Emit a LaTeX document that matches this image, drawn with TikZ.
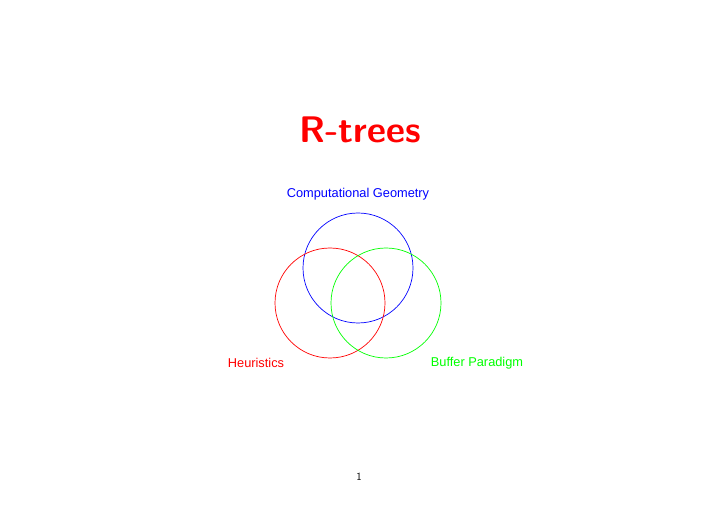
\documentclass[tikz,border=0pt]{standalone}
\usepackage{fontspec}
\usepackage{xcolor}
\usepackage{tikz}
\usetikzlibrary{positioning}
\newfontfamily\labelfont{Liberation Sans}

\begin{document}
\begin{tikzpicture}[x=1pt, y=1pt,
    ring/.style={circle, draw, minimum size=110pt, inner sep=0pt, line width=0.7pt},
    lbl/.style={font=\labelfont\fontsize{12.8}{14}\selectfont, inner sep=0pt}]
    \useasboundingbox (0,0) rectangle (720,509);

    % Title
    \node[text=red, font=\sffamily\bfseries\fontsize{37}{42}\selectfont] (title) at (360,379) {R-trees};

    % Circles
    \node[ring, draw=blue] (geom) at (358,241) {};
    \node[ring, draw=red] (heur) at (330,206) {};
    \node[ring, draw=green] (buf) at (386,206) {};

    % Labels
    \node[lbl, text=blue] (geomlbl) at (358,315) {Computational Geometry};
    \node[lbl, text=red] (heurlbl) at (256,146) {Heuristics};
    \node[lbl, text=green] (buflbl) at (477,146) {Buffer Paradigm};

    % Page number
    \node[font=\sffamily\fontsize{11}{12}\selectfont] (page) at (359,32) {1};
\end{tikzpicture}
\end{document}
